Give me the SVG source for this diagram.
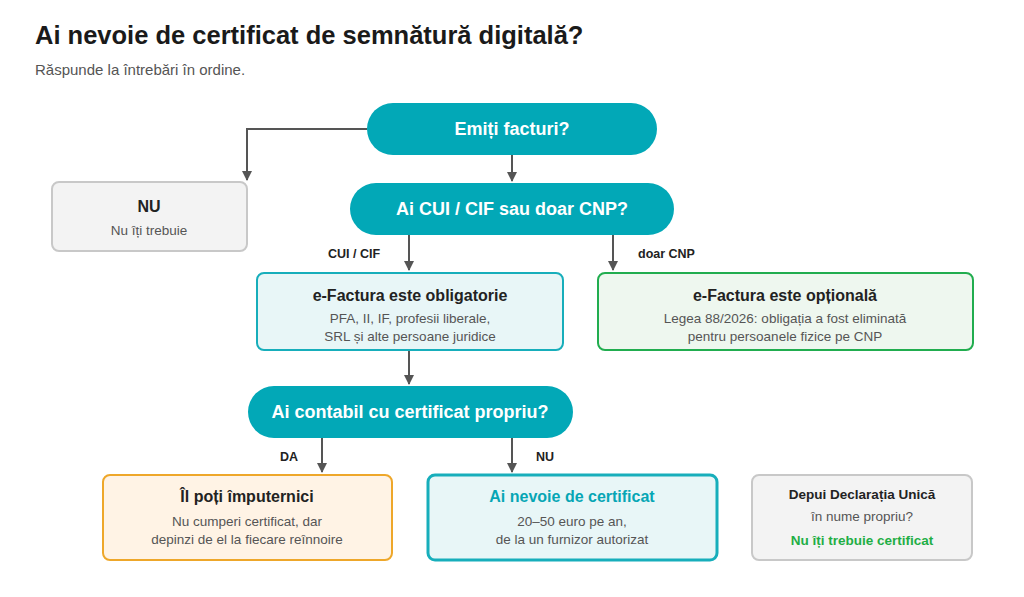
<svg xmlns="http://www.w3.org/2000/svg" width="1024" height="597" viewBox="0 0 1024 597">
<style>
text{font-family:"Liberation Sans",Arial,sans-serif}
.pill{fill:#02a8b7}
.pt{fill:#fff;font-size:18px;font-weight:bold;text-anchor:middle}
.h{font-size:16px;font-weight:bold;text-anchor:middle;fill:#222}
.s{font-size:13.5px;text-anchor:middle;fill:#555}
.lbl{font-size:12.5px;font-weight:bold;fill:#222}
.c{stroke:#555;stroke-width:2;fill:none;marker-end:url(#a)}
</style>
<defs><marker id="a" viewBox="0 0 10 10" refX="9" refY="5" markerWidth="5" markerHeight="5" orient="auto"><path d="M0,0L10,5L0,10z" fill="#555"/></marker></defs>
<rect width="1024" height="597" fill="#fff"/>
<text x="35" y="44" font-size="25.5" font-weight="bold" fill="#1a1a1a">Ai nevoie de certificat de semnătură digitală?</text>
<text x="35" y="75" font-size="15" fill="#555">Răspunde la întrebări în ordine.</text>
<g id="connectors">
<path class="c" d="M367,129H247V180"/>
<path class="c" d="M512,155V181"/>
<path class="c" d="M409,235V270"/>
<path class="c" d="M613,235V270"/>
<path class="c" d="M409,350V384"/>
<path class="c" d="M322,438V472"/>
<path class="c" d="M512,438V472"/>
<text class="lbl" x="328" y="258">CUI / CIF</text>
<text class="lbl" x="638" y="258">doar CNP</text>
<text class="lbl" x="280" y="461">DA</text>
<text class="lbl" x="536" y="461">NU</text>
</g>
<g id="q1"><rect class="pill" x="367" y="103" width="290" height="52" rx="26"/><text class="pt" x="512" y="135">Emiți facturi?</text></g>
<g id="q2"><rect class="pill" x="350" y="183" width="324" height="52" rx="26"/><text class="pt" x="512" y="215">Ai CUI / CIF sau doar CNP?</text></g>
<g id="nu"><rect x="52" y="182" width="195" height="69" rx="7" fill="#f3f3f3" stroke="#c8c8c8" stroke-width="2"/><text class="h" x="149" y="212">NU</text><text class="s" x="149" y="235">Nu îți trebuie</text></g>
<g id="oblig"><rect x="257" y="273" width="306" height="77" rx="7" fill="#e8f6f7" stroke="#17aebb" stroke-width="2"/><text class="h" x="410" y="301">e-Factura este obligatorie</text><text class="s" x="410" y="323">PFA, II, IF, profesii liberale,</text><text class="s" x="410" y="341">SRL și alte persoane juridice</text></g>
<g id="opt"><rect x="598" y="273" width="375" height="77" rx="7" fill="#eef7ef" stroke="#21ad4f" stroke-width="2"/><text class="h" x="785" y="301">e-Factura este opțională</text><text class="s" x="785" y="323">Legea 88/2026: obligația a fost eliminată</text><text class="s" x="785" y="341">pentru persoanele fizice pe CNP</text></g>
<g id="q3"><rect class="pill" x="248" y="386" width="325" height="52" rx="26"/><text class="pt" x="410" y="418">Ai contabil cu certificat propriu?</text></g>
<g id="da"><rect x="103" y="475" width="289" height="85" rx="7" fill="#fff3e5" stroke="#eea72a" stroke-width="2"/><text class="h" x="247" y="502">Îl poți împuternici</text><text class="s" x="247" y="526">Nu cumperi certificat, dar</text><text class="s" x="247" y="544">depinzi de el la fiecare reînnoire</text></g>
<g id="need"><rect x="428" y="475" width="289" height="85" rx="7" fill="#e8f6f7" stroke="#17aebb" stroke-width="3"/><text class="h" x="572" y="502" style="fill:#06a6b5">Ai nevoie de certificat</text><text class="s" x="572" y="526">20–50 euro pe an,</text><text class="s" x="572" y="544">de la un furnizor autorizat</text></g>
<g id="du"><rect x="752" y="475" width="220" height="85" rx="7" fill="#f3f3f3" stroke="#c8c8c8" stroke-width="2"/><text class="h" x="862" y="499" style="font-size:13.5px">Depui Declarația Unică</text><text class="s" x="862" y="521">în nume propriu?</text><text class="h" x="862" y="545" style="font-size:13.5px;fill:#1fae45">Nu îți trebuie certificat</text></g>
</svg>
